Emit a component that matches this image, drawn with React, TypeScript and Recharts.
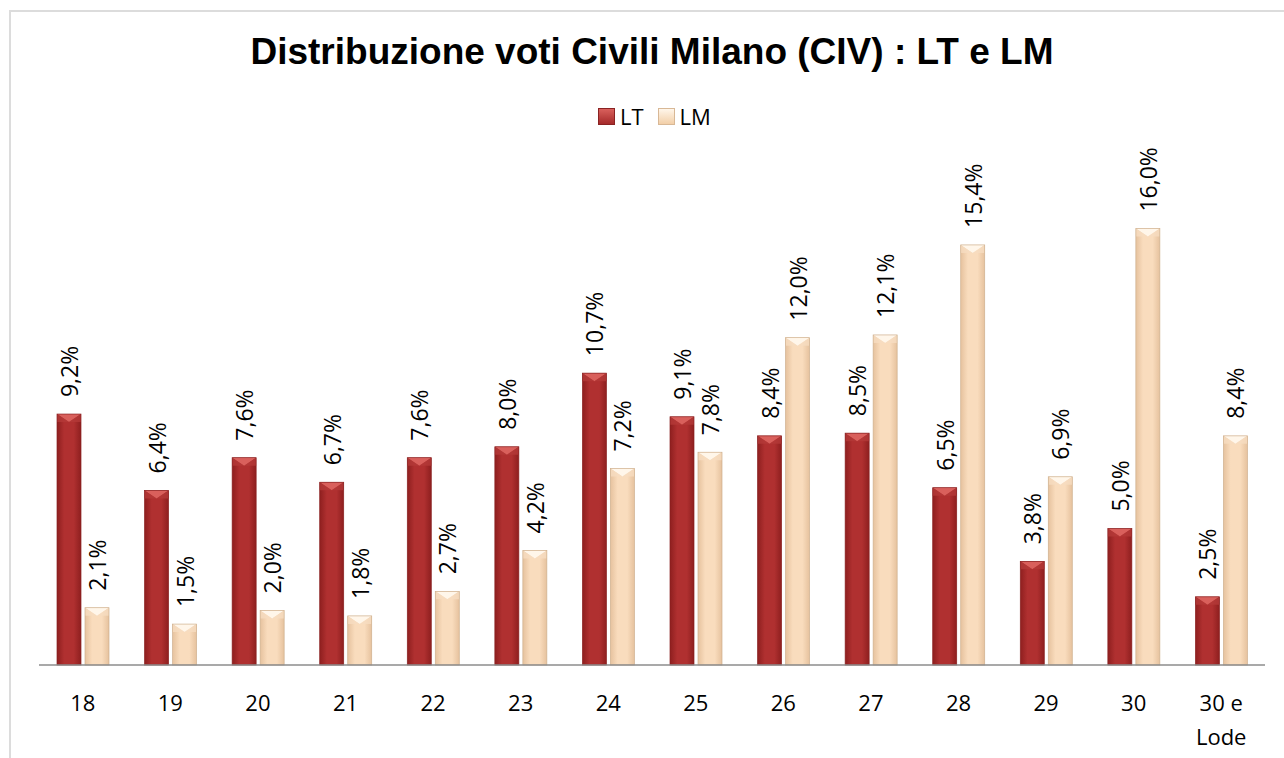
import React from "react";
import { BarChart, Bar, XAxis, YAxis, LabelList } from "recharts";

const categories = ["18", "19", "20", "21", "22", "23", "24", "25", "26", "27", "28", "29", "30", "30 e Lode"];
const ltValues = [9.2, 6.4, 7.6, 6.7, 7.6, 8.0, 10.7, 9.1, 8.4, 8.5, 6.5, 3.8, 5.0, 2.5];
const lmValues = [2.1, 1.5, 2.0, 1.8, 2.7, 4.2, 7.2, 7.8, 12.0, 12.1, 15.4, 6.9, 16.0, 8.4];

const FONT = "'Open Sans', 'Liberation Sans', sans-serif";

const data = categories.map((name, i) => ({ name, LT: ltValues[i], LM: lmValues[i] }));

const fmt = (v: number) => v.toFixed(1).replace(".", ",") + "%";

function BevelBar(props: any) {
  const { x, y, width, height, kind } = props;
  if (!height || height <= 0) return null;
  const bev = Math.min(8, height / 2);
  const isLT = kind === "LT";
  return (
    <g>
      <rect x={x} y={y} width={width} height={height} fill={`url(#grad-${kind})`} />
      <polygon
        points={`${x},${y} ${x + width},${y} ${x + width / 2},${y + bev}`}
        fill={isLT ? "#d9605c" : "#fff6ea"}
      />
      <polygon
        points={`${x},${y} ${x + width / 2},${y + bev} ${x},${y + bev}`}
        fill={isLT ? "#b43a38" : "#f6dcc0"}
        opacity={0.8}
      />
      <polygon
        points={`${x + width},${y} ${x + width / 2},${y + bev} ${x + width},${y + bev}`}
        fill={isLT ? "#b43a38" : "#f6dcc0"}
        opacity={0.8}
      />
      <rect x={x} y={y} width={width} height={height} fill="none" stroke={isLT ? "#8a2222" : "#cfb08e"} strokeWidth={0.7} />
    </g>
  );
}

function RotLabel(props: any) {
  const { x, y, width, value } = props;
  return (
    <text
      x={0}
      y={0}
      transform={`translate(${x + width / 2},${y - 17}) rotate(-90)`}
      textAnchor="start"
      dominantBaseline="central"
      fontFamily={FONT}
      fontSize={23}
      fill="#000"
    >
      {fmt(value)}
    </text>
  );
}

function CatTick(props: any) {
  const { x, y, payload } = props;
  const val: string = payload.value;
  const lines = val === "30 e Lode" ? ["30 e", "Lode"] : [val];
  return (
    <text x={x} y={y} textAnchor="middle" fontFamily={FONT} fontSize={22} fill="#000">
      {lines.map((l, i) => (
        <tspan key={i} x={x} dy={i === 0 ? 38 : 34}>
          {l}
        </tspan>
      ))}
    </text>
  );
}

export default function App() {
  return (
    <div style={{ position: "absolute", left: 0, top: 0, width: 1284, height: 758, background: "#fff", overflow: "hidden" }}>
      <div
        style={{
          position: "absolute",
          left: 9,
          top: 10,
          width: 1300,
          height: 800,
          borderTop: "2px solid #dcdcdc",
          borderLeft: "2px solid #dcdcdc",
        }}
      />
      <div
        style={{
          position: "absolute",
          left: 0,
          top: 31,
          width: 1304,
          textAlign: "center",
          fontFamily: "'Liberation Sans', Arial, sans-serif",
          fontWeight: "bold",
          fontSize: 37,
          color: "#000",
          whiteSpace: "nowrap",
        }}
      >
        Distribuzione voti Civili Milano (CIV) : LT e LM
      </div>
      <div
        style={{
          position: "absolute",
          left: 598,
          top: 101,
          display: "flex",
          alignItems: "center",
          fontFamily: FONT,
          fontSize: 22,
          color: "#000",
        }}
      >
        <span style={{ display: "inline-block", width: 15, height: 15, background: "linear-gradient(#d9605c, #a52a2a)", border: "1px solid #8a2222", marginRight: 5 }} />
        <span style={{ marginRight: 14 }}>LT</span>
        <span style={{ display: "inline-block", width: 15, height: 15, background: "linear-gradient(#fff6ea, #f2cfa8)", border: "1px solid #d8b896", marginRight: 5 }} />
        <span>LM</span>
      </div>
      <div style={{ position: "absolute", left: 0, top: 0 }}>
        <BarChart
          width={1284}
          height={758}
          data={data}
          margin={{ top: 174, right: 19, left: 39, bottom: 33 }}
          barCategoryGap="20%"
          barGap={4}
          barSize={24}
        >
          <defs>
            <linearGradient id="grad-LT" x1="0" y1="0" x2="1" y2="0">
              <stop offset="0%" stopColor="#8e1f1f" />
              <stop offset="30%" stopColor="#b03030" />
              <stop offset="70%" stopColor="#b03030" />
              <stop offset="100%" stopColor="#8e1f1f" />
            </linearGradient>
            <linearGradient id="grad-LM" x1="0" y1="0" x2="1" y2="0">
              <stop offset="0%" stopColor="#e6c29e" />
              <stop offset="30%" stopColor="#f9dcbd" />
              <stop offset="70%" stopColor="#f9dcbd" />
              <stop offset="100%" stopColor="#e6c29e" />
            </linearGradient>
          </defs>
          <XAxis
            dataKey="name"
            height={60}
            tickLine={false}
            axisLine={{ stroke: "#8c8c8c", strokeWidth: 1.5 }}
            tick={<CatTick />}
            interval={0}
          />
          <YAxis hide domain={[0, 18]} />
          <Bar dataKey="LT" isAnimationActive={false} shape={(p: any) => <BevelBar {...p} kind="LT" />}>
            <LabelList dataKey="LT" content={<RotLabel />} />
          </Bar>
          <Bar dataKey="LM" isAnimationActive={false} shape={(p: any) => <BevelBar {...p} kind="LM" />}>
            <LabelList dataKey="LM" content={<RotLabel />} />
          </Bar>
        </BarChart>
      </div>
    </div>
  );
}
